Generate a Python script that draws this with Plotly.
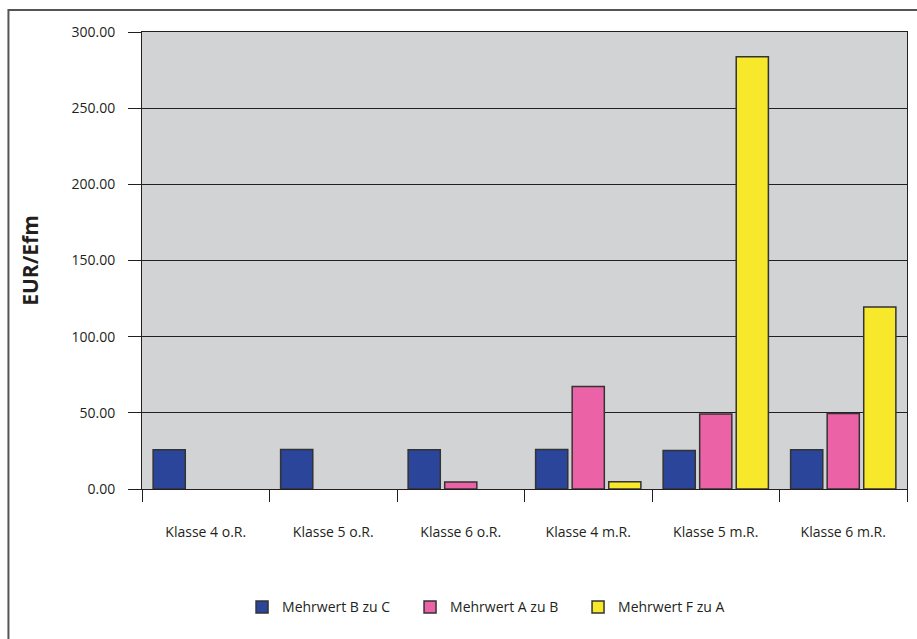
import plotly.graph_objects as go

categories = ["Klasse 4 o.R.", "Klasse 5 o.R.", "Klasse 6 o.R.",
              "Klasse 4 m.R.", "Klasse 5 m.R.", "Klasse 6 m.R."]
series_names = ["Mehrwert B zu C", "Mehrwert A zu B", "Mehrwert F zu A"]
b_zu_c = [25.8, 25.9, 25.8, 25.9, 25.3, 25.7]
a_zu_b = [None, None, 4.6, 67.3, 49.2, 49.6]
f_zu_a = [None, None, None, 4.7, 283.7, 119.5]
y_ticks = [0, 50, 100, 150, 200, 250, 300]
colors = ["#2A4599", "#EC62A6", "#F7E82B"]

FONT = "Open Sans"
fig = go.Figure()
for name, vals, col in zip(series_names, [b_zu_c, a_zu_b, f_zu_a], colors):
    fig.add_trace(go.Bar(
        x=categories, y=vals, name=name,
        marker=dict(color=col, line=dict(color="#333333", width=1.5)),
    ))

L, R, T, B = 142, 10.3, 32, 150.3
W, H = 917, 639
pw, ph = W - L - R, H - T - B

fig.update_layout(
    width=W, height=H,
    margin=dict(l=L, r=R, t=T, b=B, pad=0),
    paper_bgcolor="white",
    plot_bgcolor="#D2D3D5",
    barmode="group",
    bargap=0.14,
    bargroupgap=0.12,
    font=dict(family=FONT, size=14, color="#231F20"),
    showlegend=True,
    legend=dict(
        orientation="h",
        x=(242 - L) / pw, xanchor="left",
        y=-(607 - (H - B)) / ph, yanchor="middle",
        font=dict(family=FONT, size=14, color="#231F20"),
        entrywidth=123,
        bgcolor="rgba(0,0,0,0)",
    ),
    xaxis=dict(
        type="category",
        tickson="boundaries",
        ticks="outside", ticklen=12, tickwidth=1, tickcolor="#231F20",
        ticklabelstandoff=30,
        showline=True, linecolor="#231F20", linewidth=1, mirror=True,
        showgrid=False,
        tickfont=dict(family=FONT, size=14),
    ),
    yaxis=dict(
        range=[0, 300],
        tickvals=y_ticks,
        tickformat=".2f",
        ticks="outside", ticklen=13, tickwidth=1, tickcolor="#231F20",
        ticklabelstandoff=10,
        showline=True, linecolor="#231F20", linewidth=1, mirror=True,
        showgrid=True, gridcolor="#231F20", gridwidth=1,
        zeroline=True, zerolinecolor="#231F20", zerolinewidth=1,
        tickfont=dict(family=FONT, size=14),
        title=dict(text="<b>EUR/Efm</b>", font=dict(family=FONT, size=21), standoff=27),
    ),
)

# outer frame of the chart (only left and top edges visible in the picture)
fig.add_shape(
    type="rect", xref="paper", yref="paper",
    x0=(8.5 - L) / pw, x1=(W + 10 - L) / pw,
    y0=-(B + 10) / ph, y1=1 + (T - 10) / ph,
    line=dict(color="#555555", width=2), fillcolor="rgba(0,0,0,0)", layer="below",
)

fig.write_html("out.html")
